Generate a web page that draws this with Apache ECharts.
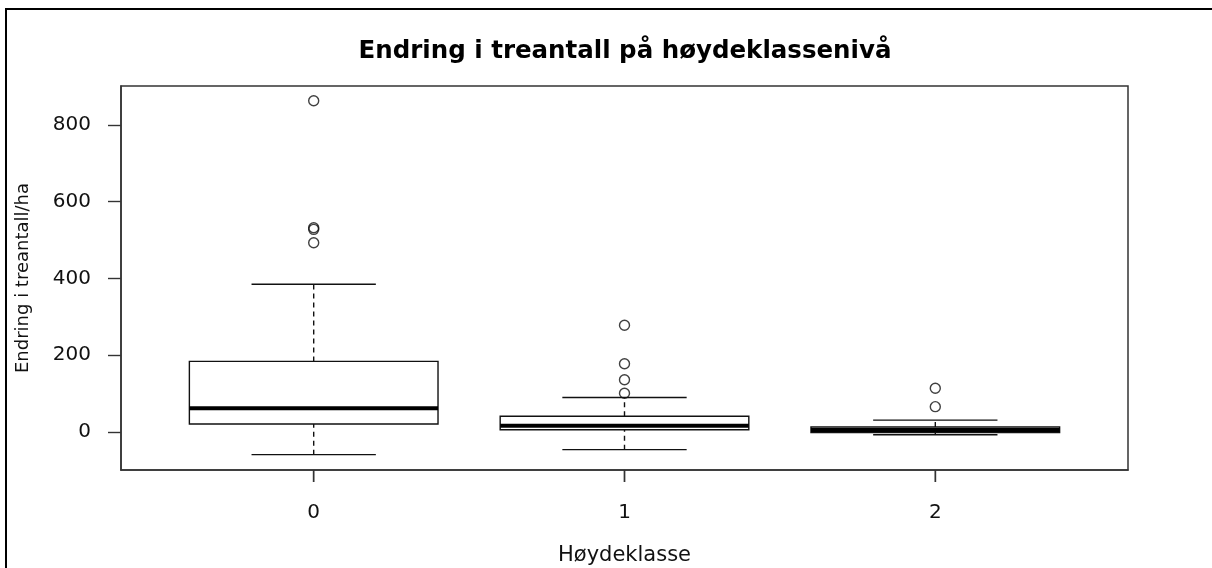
<!DOCTYPE html>
<html>
<head>
<meta charset="utf-8">
<script src="https://cdn.jsdelivr.net/npm/echarts@6/dist/echarts.min.js"></script>
<style>
html,body{margin:0;padding:0;background:#fff;}
#chart{width:1212px;height:568px;}
</style>
</head>
<body>
<div id="chart"></div>
<script>
// Categories (Høydeklasse)
const categories = [0, 1, 2];
// Box summaries: [lower whisker, Q1, median, Q3, upper whisker]
const lowerWhisker = [-59, -46, -7];
const q1 = [21, 6, -1.5];
const median = [62, 16, 5];
const q3 = [184, 41, 13];
const upperWhisker = [385, 90, 31];
// Outliers per category
const outliers0 = [863, 532, 528, 493];
const outliers1 = [278, 178, 136, 101];
const outliers2 = [114, 66];
const yTicks = [0, 200, 400, 600, 800];

const boxData = categories.map((c, i) => [c, lowerWhisker[i], q1[i], median[i], q3[i], upperWhisker[i]]);
const outlierData = []
  .concat(outliers0.map(v => [0, v]))
  .concat(outliers1.map(v => [1, v]))
  .concat(outliers2.map(v => [2, v]));

const ink = '#111';
const font = 'DejaVu Sans';
const chart = echarts.init(document.getElementById('chart'), null, {renderer: 'canvas'});

function renderBox(params, api) {
  const x = api.value(0);
  const lo = api.value(1), a = api.value(2), m = api.value(3), b = api.value(4), hi = api.value(5);
  const halfBox = api.size([0.8, 0])[0] / 2;
  const halfCap = api.size([0.4, 0])[0] / 2;
  const pLo = api.coord([x, lo]), pA = api.coord([x, a]), pM = api.coord([x, m]), pB = api.coord([x, b]), pHi = api.coord([x, hi]);
  const cx = pM[0];
  const cs = params.coordSys;
  const axisBottom = cs.y + cs.height;
  const lineStyle = {stroke: ink, lineWidth: 1.4, fill: null};
  const dashed = {stroke: ink, lineWidth: 1.4, lineDash: [5, 4], fill: null};
  return {
    type: 'group',
    children: [
      // category tick below the plot frame
      {type: 'line', shape: {x1: cx, y1: axisBottom, x2: cx, y2: axisBottom + 12}, style: {stroke: '#333', lineWidth: 1.4}},
      {type: 'line', shape: {x1: cx, y1: pB[1], x2: cx, y2: pHi[1]}, style: dashed},
      {type: 'line', shape: {x1: cx, y1: pLo[1], x2: cx, y2: pA[1]}, style: dashed},
      {type: 'line', shape: {x1: cx - halfCap, y1: pHi[1], x2: cx + halfCap, y2: pHi[1]}, style: lineStyle},
      {type: 'line', shape: {x1: cx - halfCap, y1: pLo[1], x2: cx + halfCap, y2: pLo[1]}, style: lineStyle},
      {type: 'rect', shape: {x: cx - halfBox, y: pB[1], width: halfBox * 2, height: pA[1] - pB[1]},
        style: {fill: '#fff', stroke: ink, lineWidth: 1.4}},
      {type: 'line', shape: {x1: cx - halfBox, y1: pM[1], x2: cx + halfBox, y2: pM[1]},
        style: {stroke: '#000', lineWidth: 4}}
    ]
  };
}

const option = {
  animation: false,
  backgroundColor: '#fff',
  title: {
    text: 'Endring i treantall på høydeklassenivå',
    left: 620, top: 34, textAlign: 'center',
    textStyle: {fontFamily: font, fontWeight: 'bold', fontSize: 24.5, color: '#000'}
  },
  graphic: [
    {type: 'polyline', shape: {points: [[6, 568], [6, 9], [1212, 9]]},
      style: {stroke: '#000', lineWidth: 2, fill: null}, silent: true}
  ],
  grid: {
    left: 121, top: 86, width: 1007, height: 384,
    outerBoundsMode: 'none', containLabel: false,
    show: true, borderColor: '#333', borderWidth: 1.5, backgroundColor: 'transparent'
  },
  xAxis: {
    type: 'value', min: -0.62, max: 2.62,
    splitLine: {show: false},
    axisLine: {show: true, onZero: false, lineStyle: {color: '#333', width: 1.5}},
    axisTick: {show: true, inside: false, customValues: categories, length: 12, lineStyle: {color: '#333', width: 1.4}},
    axisLabel: {customValues: categories, margin: 33, fontFamily: font, fontSize: 20, color: ink},
    name: 'Høydeklasse', nameLocation: 'middle', nameGap: 75,
    nameTextStyle: {fontFamily: font, fontSize: 21, color: ink}
  },
  yAxis: {
    type: 'value', min: -99, max: 901.5,
    splitLine: {show: false},
    axisLine: {show: true, onZero: false, lineStyle: {color: '#333', width: 1.5}},
    axisTick: {show: true, inside: false, customValues: yTicks, length: 13, lineStyle: {color: '#333', width: 1.4}},
    axisLabel: {customValues: yTicks, margin: 30, fontFamily: font, fontSize: 20, color: ink},
    name: 'Endring i treantall/ha', nameLocation: 'middle', nameGap: 89, nameRotate: 90,
    nameTextStyle: {fontFamily: font, fontSize: 18, color: ink}
  },
  series: [
    {type: 'custom', renderItem: renderBox, data: boxData, encode: {x: 0, y: [1, 2, 3, 4, 5]}, z: 2, clip: false},
    {type: 'scatter', data: outlierData, symbol: 'circle', symbolSize: 10, z: 3,
      itemStyle: {color: 'rgba(255,255,255,0)', borderColor: ink, borderWidth: 1.4}}
  ]
};
chart.setOption(option);
</script>
</body>
</html>
